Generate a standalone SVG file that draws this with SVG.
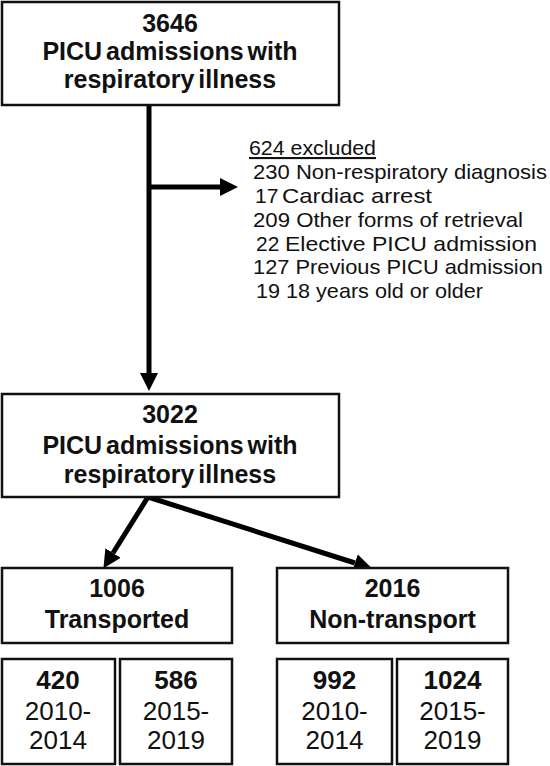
<svg xmlns="http://www.w3.org/2000/svg" width="550" height="766" viewBox="0 0 550 766">
<style>
.box{fill:#fff;stroke:#111;stroke-width:2.5}
.b{font-family:"Liberation Sans",Arial,sans-serif;font-weight:bold;font-size:25px;fill:#111;text-anchor:middle}
.r{font-family:"Liberation Sans",Arial,sans-serif;font-size:26px;fill:#111;text-anchor:middle}
.ex{font-family:"Liberation Sans",Arial,sans-serif;font-size:21px;fill:#111}
.conn{stroke:#000;stroke-width:5;fill:none}
</style>
<defs>
<marker id="ah" viewBox="0 0 18 18" markerWidth="18" markerHeight="18" refX="0" refY="9" orient="auto" markerUnits="userSpaceOnUse">
<path d="M0,0 L18,9 L0,18 Z" fill="#000"/>
</marker>
</defs>
<rect width="550" height="766" fill="#fff"/>
<g id="connectors">
<line class="conn" x1="149" y1="105" x2="149" y2="373" marker-end="url(#ah)"/>
<line class="conn" x1="149" y1="187" x2="220" y2="187" marker-end="url(#ah)"/>
<line class="conn" x1="148" y1="497" x2="113" y2="553" marker-end="url(#ah)"/>
<line class="conn" x1="148" y1="497" x2="355" y2="563" marker-end="url(#ah)"/>
</g>
<g id="n3646">
<rect class="box" x="2" y="2" width="337" height="103"/>
<text class="b" x="170" y="32">3646</text>
<text class="b" x="170" y="60" word-spacing="-3">PICU admissions with</text>
<text class="b" x="170" y="88" word-spacing="-3">respiratory illness</text>
</g>
<g id="excluded">
<text class="ex" x="249" y="155" text-decoration="underline" textLength="127" lengthAdjust="spacingAndGlyphs">624 excluded</text>
<text class="ex" x="253" y="179" textLength="294" lengthAdjust="spacingAndGlyphs">230 Non-respiratory  diagnosis</text>
<text class="ex" y="203"><tspan x="255">17</tspan><tspan x="282" textLength="150" lengthAdjust="spacingAndGlyphs">Cardiac arrest</tspan></text>
<text class="ex" x="253" y="227" textLength="270" lengthAdjust="spacingAndGlyphs">209 Other forms of retrieval</text>
<text class="ex" y="251"><tspan x="256">22</tspan><tspan x="285" textLength="252" lengthAdjust="spacingAndGlyphs">Elective PICU admission</tspan></text>
<text class="ex" x="253" y="274" textLength="290" lengthAdjust="spacingAndGlyphs">127 Previous PICU admission</text>
<text class="ex" x="256" y="298" textLength="227" lengthAdjust="spacingAndGlyphs">19 18 years old or older</text>
</g>
<g id="n3022">
<rect class="box" x="2" y="394" width="337" height="103"/>
<text class="b" x="170" y="423">3022</text>
<text class="b" x="170" y="454" word-spacing="-3">PICU admissions with</text>
<text class="b" x="170" y="483" word-spacing="-3">respiratory illness</text>
</g>
<g id="n1006">
<rect class="box" x="2" y="568" width="230" height="75"/>
<text class="b" x="117" y="597">1006</text>
<text class="b" x="117" y="628">Transported</text>
</g>
<g id="n2016">
<rect class="box" x="277" y="568" width="231" height="75"/>
<text class="b" x="392.5" y="597">2016</text>
<text class="b" x="392.5" y="628">Non-transport</text>
</g>
<g id="n420">
<rect class="box" x="2" y="659" width="113" height="105"/>
<text class="b" x="58" y="689" style="font-size:26px">420</text>
<text class="r" x="58" y="720">2010-</text>
<text class="r" x="58" y="749">2014</text>
</g>
<g id="n586">
<rect class="box" x="120" y="659" width="112" height="105"/>
<text class="b" x="176" y="689" style="font-size:26px">586</text>
<text class="r" x="176" y="720">2015-</text>
<text class="r" x="176" y="749">2019</text>
</g>
<g id="n992">
<rect class="box" x="277" y="659" width="115" height="105"/>
<text class="b" x="334.5" y="689" style="font-size:26px">992</text>
<text class="r" x="334.5" y="720">2010-</text>
<text class="r" x="334.5" y="749">2014</text>
</g>
<g id="n1024">
<rect class="box" x="397" y="659" width="111" height="105"/>
<text class="b" x="452.5" y="689" style="font-size:26px">1024</text>
<text class="r" x="452.5" y="720">2015-</text>
<text class="r" x="452.5" y="749">2019</text>
</g>
</svg>
